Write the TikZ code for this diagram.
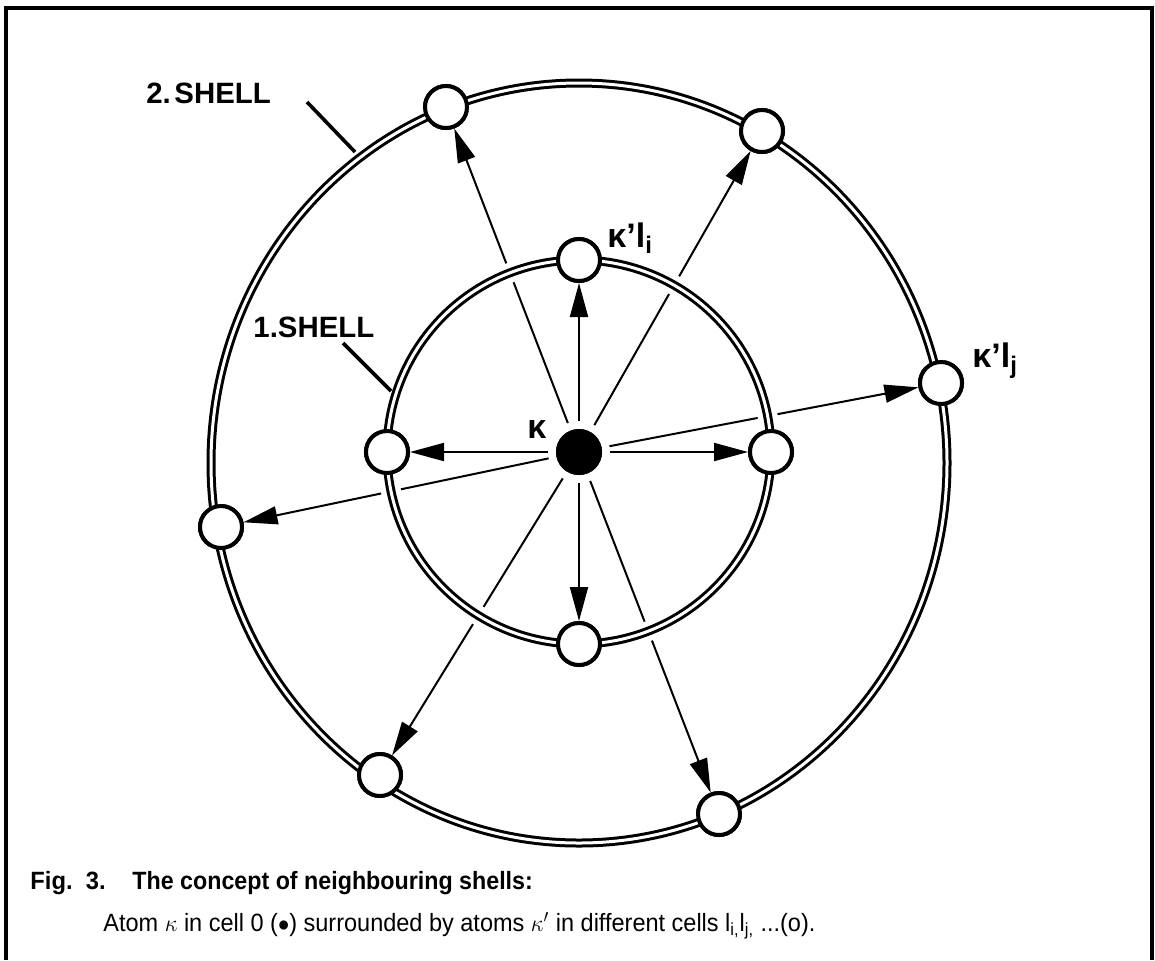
\documentclass[tikz,border=0pt]{standalone}
\usepackage{fontspec}
\setmainfont{Liberation Sans}
\usepackage{graphicx}
\usetikzlibrary{arrows.meta}
\begin{document}
\begin{tikzpicture}[x=0.5pt,y=-0.5pt,
  atom/.style={circle,draw,line width=2pt,fill=white,minimum size=21pt,inner sep=0pt},
  core/.style={circle,fill=black,minimum size=23pt,inner sep=0pt,outer sep=2pt},
  arr/.style={line width=1pt,-{Triangle[length=17pt,width=9pt]}},
  shellbg/.style={draw=white,line width=10pt},
  shell/.style={line width=1.5pt,double=white,double distance=1.5pt},
  lead/.style={line width=1.8pt},
  lbl/.style={font=\fontsize{14.7}{16}\selectfont\bfseries,inner sep=0pt,anchor=base west},
  klbl/.style={font=\fontsize{17}{18}\selectfont\bfseries,inner sep=0pt,anchor=base west},
  captxt/.style={inner sep=0pt,anchor=base west,font=\fontsize{12.5}{14}\selectfont}
]
\useasboundingbox (0,0) rectangle (1155,960);
\draw[line width=1.6pt] (6,960) -- (6,8) -- (1152,8) -- (1152,960);

% atoms
\node[core] (c) at (579,452) {};
\coordinate (ic) at (579,452);
\coordinate (oc) at (579,463);
\node[atom] (it) at (579,260) {};
\node[atom] (ib) at (579,644) {};
\node[atom] (il) at (387,452) {};
\node[atom] (ir) at (771,452) {};
\node[atom] (otl) at (446,107) {};
\node[atom] (otr) at (762,131) {};
\node[atom] (or) at (941,383) {};
\node[atom] (ol) at (221,527) {};
\node[atom] (obl) at (380,775) {};
\node[atom] (obr) at (719,814) {};

% arrows
\foreach \t in {it,ib,il,ir,otl,otr,or,ol,obl,obr}
  \draw[arr,shorten <=2pt] (c) -- (\t);

% shells
\draw[shellbg] (ic) circle[radius=192];
\draw[shellbg] (oc) ellipse[x radius=368,y radius=380];
\draw[shell] (ic) circle[radius=192];
\draw[shell] (oc) ellipse[x radius=368,y radius=380];

% atoms on top
\foreach \p/\n in {{579,260}/it2,{579,644}/ib2,{387,452}/il2,{771,452}/ir2,{446,107}/otl2,{762,131}/otr2,{941,383}/or2,{221,527}/ol2,{380,775}/obl2,{719,814}/obr2}
  \node[atom] (\n) at (\p) {};
\node[core] (c2) at (579,452) {};

% labels
\node[lbl] (l2) at (146,103) {2.\hspace{0.12em}SHELL};
\node[lbl] (l1) at (253,337) {1.SHELL};
\coordinate (l2a) at (307,102);
\coordinate (l2b) at (355,152);
\coordinate (l1a) at (343,343);
\coordinate (l1b) at (391,391);
\draw[lead] (l2a) -- (l2b);
\draw[lead] (l1a) -- (l1b);

\node[klbl] (kc) at (527,438) {κ};
\node[klbl] (ki) at (607,247) {κ’l\raisebox{-0.35ex}{\fontsize{12}{12}\selectfont i}};
\node[klbl] (kj) at (972,367) {κ’l\raisebox{-0.35ex}{\fontsize{12}{12}\selectfont j}};

% caption
\node[captxt] (f1) at (30,889) {\scalebox{0.95}[1]{\bfseries Fig.\ \ 3.}};
\node[captxt] (f2) at (132,889) {\scalebox{0.93}[1]{\bfseries The concept of neighbouring shells:}};
\node[captxt] (f3) at (103,931) {\scalebox{0.94}[1]{Atom $\kappa$ in cell 0 ($\bullet$) surrounded by atoms $\kappa'$ in different cells l\textsubscript{i,}l\textsubscript{j,} ...(o).}};
\end{tikzpicture}
\end{document}
